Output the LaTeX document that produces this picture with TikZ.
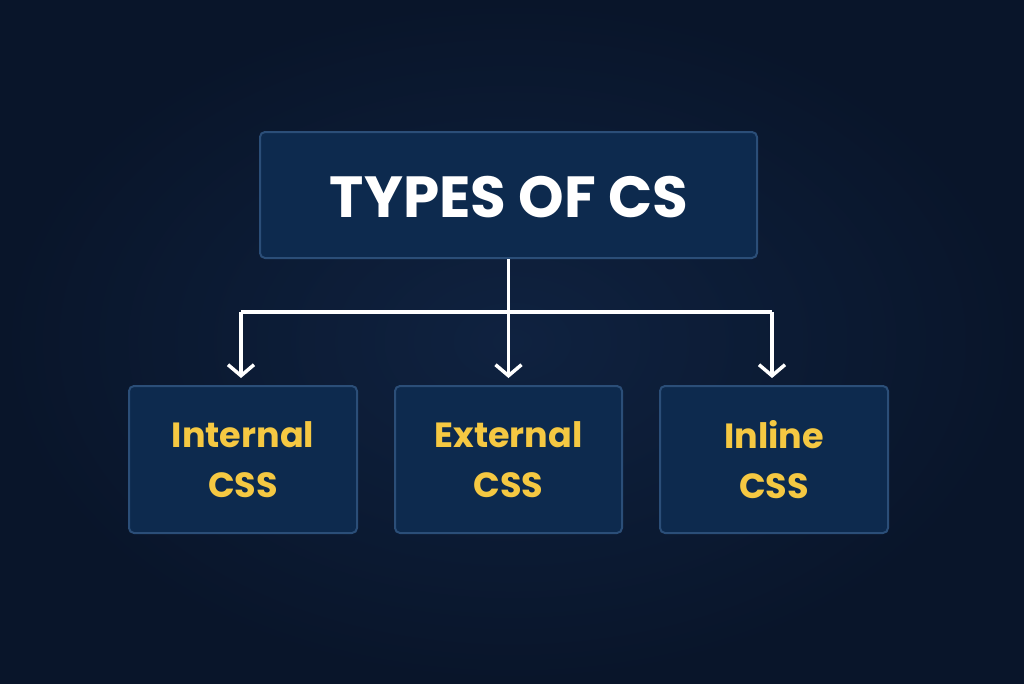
\documentclass[tikz,border=0pt]{standalone}
\usepackage{fontspec}
\setmainfont{Poppins}
\usetikzlibrary{arrows.meta}
\definecolor{bg}{HTML}{09152A}
\definecolor{bgc}{HTML}{0F2240}
\definecolor{boxfill}{HTML}{0D2A4E}
\definecolor{boxline}{HTML}{2B4E78}
\definecolor{ylw}{HTML}{F5C842}
\tikzset{
  box/.style={draw=boxline, line width=2pt, fill=boxfill, rounded corners=5pt, inner sep=0pt},
  lbl/.style={text=ylw, font=\fontsize{35}{50}\selectfont\bfseries, align=center},
  conn/.style={draw=white, line width=3.5pt},
  arr/.style={conn, -{Straight Barb[length=11pt,width=26pt,line width=3.5pt]}}
}
\begin{document}
\begin{tikzpicture}[x=1pt,y=-1pt]
\useasboundingbox (0,0) rectangle (1024,683);
\shade[inner color=bgc, outer color=bg] (0,0) rectangle (1024,683);
\node[box, minimum width=497pt, minimum height=126pt] (top) at (508.5,195) {};
\node[text=white, font=\fontsize{58}{64}\selectfont\bfseries] (title) at (509,197) {TYPES OF CS};
\node[box, minimum width=228pt, minimum height=147pt] (a) at (243,459.5) {};
\node[box, minimum width=227pt, minimum height=147pt] (b) at (508.5,459.5) {};
\node[box, minimum width=228pt, minimum height=147pt] (c) at (774,459.5) {};
\node[lbl] (ta) at (a) {Internal\\CSS};
\node[lbl] (tb) at (b) {External\\CSS};
\node[lbl] (tc) at (c) {Inline\\CSS};
\coordinate (j) at (508.5,312);
\coordinate (ea) at (241,378);
\coordinate (eb) at (508.5,378);
\coordinate (ec) at (772,378);
\draw[conn] (top.south) -- (j);
\draw[conn] (ea |- j) -- (ec |- j);
\draw[arr] (ea |- j) -- (ea);
\draw[arr] (j) -- (eb);
\draw[arr] (ec |- j) -- (ec);
\end{tikzpicture}
\end{document}
